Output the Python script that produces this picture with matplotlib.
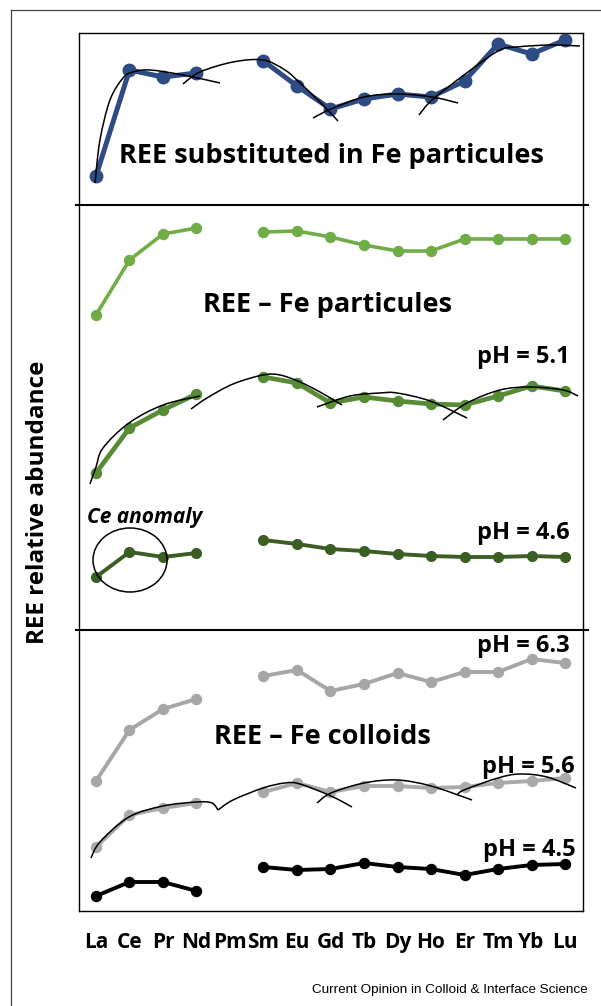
import numpy as np
import matplotlib
matplotlib.use("Agg")
import matplotlib.pyplot as plt
from matplotlib.path import Path
from matplotlib.patches import PathPatch, Ellipse
from matplotlib.lines import Line2D

plt.rcParams['font.family'] = ['Open Sans', 'DejaVu Sans']

# ---------------- data ----------------
elements = ["La", "Ce", "Pr", "Nd", "Pm", "Sm", "Eu", "Gd", "Tb", "Dy", "Ho", "Er", "Tm", "Yb", "Lu"]
nan = np.nan
# relative abundance (arbitrary units, stacked offsets as in the figure)
substituted = [735, 841, 834, 838, nan, 850, 825, 802, 812, 817, 814, 830, 867, 857, 871]
particules_top = [596, 651, 677, 683, nan, 679, 680, 674, 666, 660, 660, 672, 672, 672, 672]
particules_ph51 = [438, 483, 501, 517, nan, 534, 528, 508, 514, 510, 507, 506, 515, 525, 520]
particules_ph46 = [334, 359, 354, 358, nan, 371, 367, 362, 360, 357, 355, 354, 354, 355, 354]
colloids_ph63 = [130, 181, 202, 212, nan, 235, 241, 220, 227, 238, 229, 239, 239, 252, 248]
colloids_ph56 = [64, 96, 103, 108, nan, 119, 128, 119, 125, 125, 123, 124, 128, 130, 133]
colloids_ph45 = [15, 29, 29, 20, nan, 44, 41, 42, 48, 44, 42, 36, 42, 46, 47]

# hand-drawn tetrad guide curves (element index, value)
tetrad_substituted = [
    [(-0.03, 728), (0.119, 771), (0.418, 811), (0.806, 833), (1.104, 839), (1.612, 841), (2.597, 836), (3.701, 828)],
    [(2.597, 827), (3.104, 839), (4.09, 849), (4.985, 851), (5.642, 841), (6.09, 828), (6.687, 809), (7.224, 790)],
    [(6.478, 793), (7.015, 802), (8.0, 814), (8.985, 817), (10.03, 814), (10.806, 808)],
    [(9.642, 796), (10.03, 811), (10.985, 836), (12.0, 860), (12.567, 864), (13.552, 866), (14.448, 865)],
]
tetrad_ph51 = [
    [(-0.179, 427), (0.0, 444), (0.209, 463), (0.985, 488), (2.0, 506), (3.104, 515)],
    [(2.836, 502), (3.313, 513), (4.09, 527), (4.985, 536), (5.493, 536), (6.09, 529), (6.687, 519), (7.343, 506)],
    [(6.597, 504), (7.582, 515), (8.478, 518), (8.985, 518), (9.97, 510), (11.075, 493)],
    [(10.358, 491), (11.075, 508), (12.06, 521), (12.955, 524), (13.94, 521), (14.388, 515)],
]
tetrad_ph56 = [
    [(-0.149, 53), (0.119, 69), (0.985, 94), (2.0, 105), (3.015, 109), (3.463, 108), (3.642, 101)],
    [(3.642, 101), (4.09, 111), (4.985, 123), (5.642, 128), (6.09, 127), (7.015, 115), (7.642, 104)],
    [(6.597, 108), (7.015, 118), (8.0, 128), (8.985, 131), (10.0, 125), (11.224, 111)],
    [(10.776, 116), (10.985, 121), (12.0, 133), (12.657, 137), (13.463, 134), (14.328, 123)],
]

# ---------------- figure ----------------
W, H = 601, 1006
fig = plt.figure(figsize=(W / 100, H / 100), dpi=100)
ax = fig.add_axes([79 / W, 1 - 911 / H, (583 - 79) / W, (911 - 33) / H])
ax.set_xlim(-0.507, 14.537)
ax.set_ylim(0, 878)
for s in ax.spines.values():
    s.set_linewidth(1.0)
    s.set_color('black')
ax.set_yticks([])
x = np.arange(len(elements))
ax.set_xticks(x)
ax.set_xticklabels(elements, fontsize=15, fontweight='bold')
ax.tick_params(axis='x', length=0, pad=15)


def series(vals, color, lw, ms):
    ax.plot(x, vals, '-', color=color, lw=lw, marker='o', ms=ms,
            markerfacecolor=color, markeredgecolor=color, solid_capstyle='round', zorder=3)


series(substituted, '#2F4B83', 3.6, 9.0)
series(particules_top, '#70AD47', 2.6, 7.2)
series(particules_ph51, '#578B36', 3.4, 7.2)
series(particules_ph46, '#3B5E25', 2.8, 7.0)
series(colloids_ph63, '#A6A6A6', 2.8, 7.2)
series(colloids_ph56, '#AAAAAA', 2.8, 7.2)
series(colloids_ph45, '#000000', 2.8, 7.2)


def smooth_curve(pts):
    p = np.asarray(pts, dtype=float)
    ext = np.vstack([p[0], p, p[-1]])
    verts = [tuple(p[0])]
    codes = [Path.MOVETO]
    for k in range(1, len(ext) - 2):
        p0, p1, p2, p3 = ext[k - 1], ext[k], ext[k + 1], ext[k + 2]
        c1 = p1 + (p2 - p0) / 6.0
        c2 = p2 - (p3 - p1) / 6.0
        verts += [tuple(c1), tuple(c2), tuple(p2)]
        codes += [Path.CURVE4] * 3
    ax.add_patch(PathPatch(Path(verts, codes), fill=False, edgecolor='black', lw=1.1, zorder=4))


for group in (tetrad_substituted, tetrad_ph51, tetrad_ph56):
    for c in group:
        smooth_curve(c)

# Ce anomaly ellipse
ax.add_patch(Ellipse((1.016, 351), 2.21, 64, fill=False, edgecolor='black', lw=1.1, zorder=4))
ax.text(1.463, 393, "Ce anomaly", fontsize=15, fontweight='bold', fontstyle='italic',
        ha='center', va='center')

# panel separators
for yv in (706, 281):
    ax.plot([-0.597, 14.687], [yv, yv], color='black', lw=1.5, clip_on=False, zorder=5)

# titles
ax.text(7.015, 755, "REE substituted in Fe particules", fontsize=19.5, fontweight='bold', ha='center', va='center')
ax.text(6.925, 606, "REE \u2013 Fe particules", fontsize=19.5, fontweight='bold', ha='center', va='center')
ax.text(6.746, 174, "REE \u2013 Fe colloids", fontsize=19.5, fontweight='bold', ha='center', va='center')

# pH labels
ph_labels = [("pH = 5.1", 14.149, 554), ("pH = 4.6", 14.149, 378), ("pH = 6.3", 14.149, 265),
             ("pH = 5.6", 14.3, 144), ("pH = 4.5", 14.328, 61)]
for t, xx, yy in ph_labels:
    ax.text(xx, yy, t, fontsize=17, fontweight='bold', ha='right', va='center', zorder=6)

# y label
fig.text(38 / W, 1 - 502 / H, "REE relative abundance", rotation=90, fontsize=17.5,
         fontweight='bold', ha='center', va='center')

# footer
fig.text(588 / W, 1 - 990 / H, "Current Opinion in Colloid & Interface Science",
         fontsize=9.7, family='Liberation Sans', ha='right', va='center')

# outer frame lines
fig.add_artist(Line2D([11 / W, 1.0], [1 - 10 / H, 1 - 10 / H], color='#444444', lw=0.9))
fig.add_artist(Line2D([11 / W, 11 / W], [0.0, 1 - 10 / H], color='#444444', lw=0.9))

fig.savefig("out.png", dpi=100)
